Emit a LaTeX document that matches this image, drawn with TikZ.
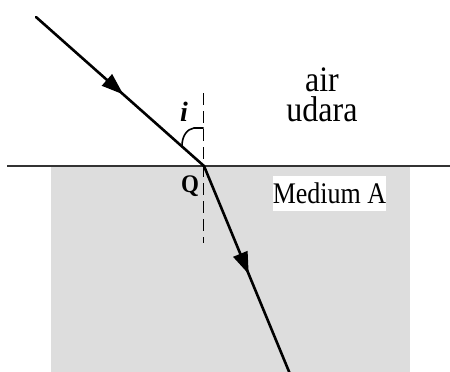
\documentclass[tikz,border=0pt]{standalone}
\usepackage{fontspec}
\setmainfont{Liberation Serif}
\usetikzlibrary{arrows.meta,decorations.markings}
\definecolor{medgray}{HTML}{DDDDDD}
\definecolor{surf}{HTML}{333333}
\tikzset{
  ray/.style={line width=2.6pt, line cap=round,
    postaction={decorate, decoration={markings,
      mark=at position 0.52 with {\arrow{Triangle[length=22pt,width=15pt]}}}}},
  normal/.style={line width=1.4pt, dash pattern=on 12pt off 6pt},
  lbl/.style={inner sep=0pt, font=\fontsize{32}{30}\selectfont},
}
\begin{document}
\begin{tikzpicture}[x=1pt,y=-1pt]
\useasboundingbox (0,0) rectangle (450,372);
\begin{scope}
\clip (0,0) rectangle (450,372);
\fill[medgray] (51,166) rectangle (410,372);
\coordinate (Q) at (204,166);
\coordinate (S) at (36,17);
\coordinate (E) at (290,374);
\coordinate (Ntop) at (203.5,93);
\coordinate (Nbot) at (203.5,243);
\coordinate (L) at (7,166);
\coordinate (R) at (450,166);
\draw[normal] (Ntop) -- (Nbot);
\draw[line width=1.8pt, surf] (L) -- (R);
\draw[ray] (S) -- (Q);
\draw[ray] (Q) -- (E);
\draw[line width=1.6pt] (203.5,128) -- (194,128) .. controls (187,129) and (182,136) .. (182,146);
\node[lbl, align=center, anchor=base] (air) at (322,121) {\scalebox{1}[1.12]{air}\\\scalebox{1}[1.12]{udara}};
\node[fill=white, inner xsep=0pt, inner ysep=0pt, minimum height=35pt, minimum width=113pt,
      font=\fontsize{26}{26}\selectfont] (med) at (329.5,193.5) {\scalebox{1}[1.15]{Medium A}};
\node[inner sep=0pt, font=\fontsize{23}{23}\selectfont\bfseries] (q) at (190,186.5) {\scalebox{1}[1.1]{Q}};
\node[inner sep=0pt, font=\fontsize{28}{28}\selectfont\bfseries\itshape] (i) at (184,112) {i};
\end{scope}
\end{tikzpicture}
\end{document}
